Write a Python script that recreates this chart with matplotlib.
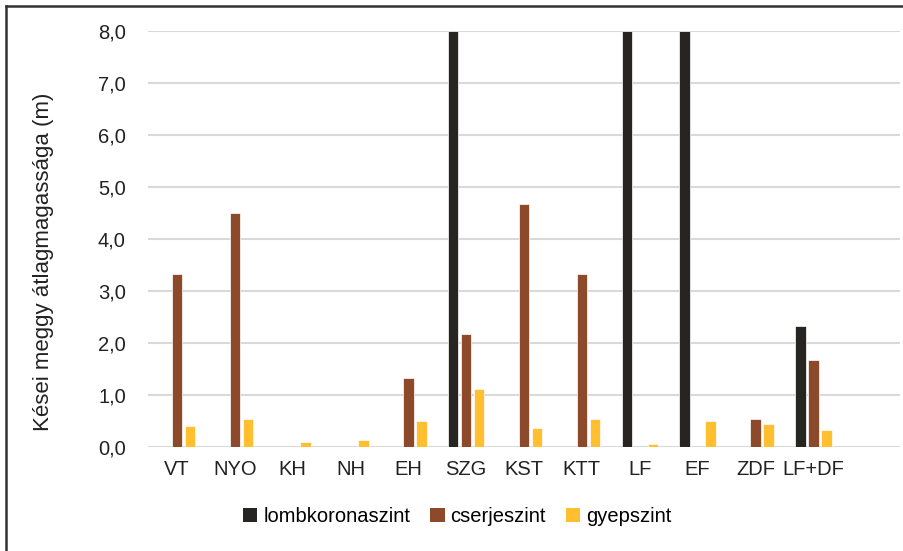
import numpy as np
import matplotlib.pyplot as plt
from matplotlib.lines import Line2D
from matplotlib.patches import Patch

plt.rcParams['font.family'] = ['Liberation Sans', 'DejaVu Sans']

categories = ['VT', 'NYO', 'KH', 'NH', 'EH', 'SZG', 'KST', 'KTT', 'LF', 'EF', 'ZDF', 'LF+DF']
lombkorona = [0, 0, 0, 0, 0, 8.0, 0, 0, 8.0, 8.0, 0, 2.33]
cserje = [3.33, 4.5, 0, 0, 1.33, 2.17, 4.67, 3.33, 0, 0, 0.53, 1.67]
gyep = [0.40, 0.53, 0.10, 0.13, 0.51, 1.11, 0.36, 0.53, 0.06, 0.51, 0.44, 0.33]

series_names = ['lombkoronaszint', 'cserjeszint', 'gyepszint']
colors = ['#262522', '#8c4a2a', '#ffbf2e']

fig = plt.figure(figsize=(9.04, 5.51), dpi=100)
ax = fig.add_axes([0.1637, 0.1887, 0.832, 0.755])

x = np.arange(len(categories))
w = 0.18
off = 0.225
for i, (vals, c) in enumerate(zip([lombkorona, cserje, gyep], colors)):
    ax.bar(x + (i - 1) * off, vals, width=w, color=c, edgecolor='white', linewidth=0.5, zorder=3)

ax.set_xlim(-0.5, 12.5)
ax.set_ylim(0, 8)
ax.set_yticks(np.arange(0, 8.01, 1))
ax.set_yticklabels([f'{v:.1f}'.replace('.', ',') for v in np.arange(0, 8.01, 1)], fontsize=14.5, color='#222222')
ax.set_xticks(x)
ax.set_xticklabels(categories, fontsize=14.5, color='#222222')
ax.tick_params(axis='y', length=0, pad=16)
ax.tick_params(axis='x', length=0, pad=9)
ax.grid(axis='y', color='#d9d9d9', linewidth=1.5, zorder=0)
for s in ax.spines.values():
    s.set_visible(False)

ax.set_ylabel('Kései meggy átlagmagassága (m)', fontsize=16, color='#222222')
ax.yaxis.set_label_coords(-0.125, 0.445)

handles = [Patch(facecolor=c, edgecolor='none') for c in colors]
fig.legend(handles, series_names, loc='center', bbox_to_anchor=(0.506, 0.062), ncol=3,
           frameon=False, fontsize=14.5, handlelength=0.7, handleheight=0.7,
           handletextpad=0.3, columnspacing=1.0)

# outer frame (left and top edges visible)
fig.add_artist(Line2D([0.0066, 0.0066], [0, 0.99], color='#333333', linewidth=1.8))
fig.add_artist(Line2D([0.0066, 1.0], [0.99, 0.99], color='#333333', linewidth=1.8))

fig.savefig('out.png', dpi=100)
